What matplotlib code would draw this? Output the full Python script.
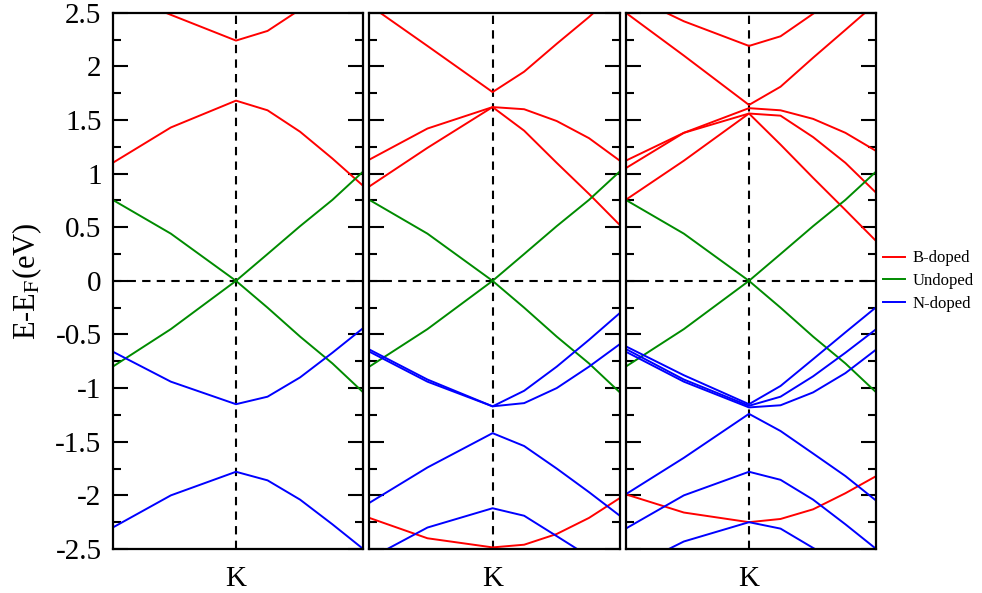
import matplotlib
matplotlib.use("Agg")
from matplotlib import pyplot as plt
from matplotlib.lines import Line2D

plt.rcParams["font.family"] = ["Liberation Serif", "DejaVu Serif"]
plt.rcParams["mathtext.fontset"] = "stix"
plt.rcParams["axes.unicode_minus"] = False

# k-path positions (left end, k1, K, then 4 points toward right end)
kpath = [0.0, 0.232, 0.492, 0.618, 0.748, 0.877, 1.0]
k_label = "K"
k_pos = 0.492

yticks = [2.5, 2, 1.5, 1, 0.5, 0, -0.5, -1, -1.5, -2, -2.5]
ytick_labels = ["2.5", "2", "1.5", "1", "0.5", "0", "-0.5", "-1", "-1.5", "-2", "-2.5"]

# undoped (green) - same in every panel
undoped_cb = [0.755, 0.44, 0.0, 0.25, 0.51, 0.755, 1.02]
undoped_vb = [-0.80, -0.45, 0.0, -0.25, -0.52, -0.77, -1.04]

# panel 1
p1_red = [
    [2.70, 2.48, 2.24, 2.33, 2.53, 2.75, 2.95],
    [1.10, 1.43, 1.68, 1.59, 1.39, 1.14, 0.885],
]
p1_blue = [
    [-0.66, -0.94, -1.15, -1.08, -0.90, -0.67, -0.44],
    [-2.30, -2.00, -1.78, -1.86, -2.04, -2.27, -2.50],
]

# panel 2
p2_red = [
    [2.57, 2.19, 1.76, 1.95, 2.21, 2.46, 2.72],
    [1.13, 1.42, 1.62, 1.60, 1.49, 1.33, 1.12],
    [0.88, 1.24, 1.62, 1.40, 1.10, 0.81, 0.52],
    [-2.21, -2.40, -2.485, -2.46, -2.36, -2.21, -2.025],
]
p2_blue = [
    [-0.64, -0.92, -1.17, -1.025, -0.80, -0.55, -0.30],
    [-0.66, -0.94, -1.17, -1.14, -1.00, -0.80, -0.59],
    [-2.07, -1.74, -1.42, -1.54, -1.75, -1.97, -2.19],
    [-2.59, -2.30, -2.12, -2.19, -2.38, -2.57, -2.76],
]

# panel 3
p3_red = [
    [2.68, 2.42, 2.19, 2.28, 2.49, 2.69, 2.88],
    [2.50, 2.10, 1.64, 1.81, 2.08, 2.34, 2.59],
    [1.12, 1.38, 1.61, 1.59, 1.51, 1.38, 1.21],
    [1.05, 1.38, 1.56, 1.54, 1.34, 1.10, 0.82],
    [0.755, 1.12, 1.56, 1.27, 0.96, 0.66, 0.37],
    [-1.99, -2.16, -2.25, -2.22, -2.13, -1.98, -1.82],
]
p3_blue = [
    [-0.61, -0.88, -1.15, -0.98, -0.73, -0.48, -0.245],
    [-0.635, -0.92, -1.165, -1.08, -0.89, -0.67, -0.45],
    [-0.66, -0.94, -1.18, -1.16, -1.04, -0.86, -0.64],
    [-1.99, -1.65, -1.24, -1.40, -1.61, -1.82, -2.05],
    [-2.31, -2.00, -1.78, -1.855, -2.04, -2.27, -2.50],
    [-2.70, -2.43, -2.25, -2.31, -2.49, -2.66, -2.83],
]

panels = [(p1_red, p1_blue), (p2_red, p2_blue), (p3_red, p3_blue)]
lefts = [0.1148, 0.3761, 0.6372]
red, green, blue = "#ff0000", "#008b00", "#0000ff"

fig = plt.figure(figsize=(9.82, 5.93), dpi=100)
for i, (reds, blues) in enumerate(panels):
    ax = fig.add_axes([lefts[i], 0.0742, 0.2551, 0.9044])
    ax.axhline(0, color="k", ls=(0, (4, 3)), lw=1.5, zorder=1)
    ax.axvline(k_pos, color="k", ls=(0, (4, 3)), lw=1.5, zorder=1)
    for b in reds:
        ax.plot(kpath, b, color=red, lw=1.4, zorder=2)
    ax.plot(kpath, undoped_cb, color=green, lw=1.4, zorder=2)
    ax.plot(kpath, undoped_vb, color=green, lw=1.4, zorder=2)
    for b in blues:
        ax.plot(kpath, b, color=blue, lw=1.4, zorder=2)
    ax.set_xlim(0, 1)
    ax.set_ylim(-2.5, 2.5)
    ax.set_xticks([k_pos])
    ax.set_xticklabels([k_label], fontsize=21)
    ax.tick_params(axis="x", length=0, pad=12)
    ax.set_yticks(yticks)
    ax.set_yticks([2.25, 1.75, 1.25, 0.75, 0.25, -0.25, -0.75, -1.25, -1.75, -2.25], minor=True)
    ax.tick_params(axis="y", which="major", direction="in", left=True, right=True,
                   length=11, width=1.5, pad=8)
    ax.tick_params(axis="y", which="minor", direction="in", left=True, right=True,
                   length=5.5, width=1.5)
    if i == 0:
        ax.set_yticklabels(ytick_labels, fontsize=21)
        ax.set_ylabel("E-E$_\\mathrm{F}$(eV)", fontsize=22, labelpad=8)
    else:
        ax.set_yticklabels([])
    for s in ax.spines.values():
        s.set_linewidth(1.6)

handles = [Line2D([], [], color=red, lw=1.4),
           Line2D([], [], color=green, lw=1.4),
           Line2D([], [], color=blue, lw=1.4)]
fig.legend(handles, ["B-doped", "Undoped", "N-doped"], loc="center left",
           bbox_to_anchor=(0.899, 0.526), frameon=False, fontsize=12,
           handlelength=1.32, handletextpad=0.48, labelspacing=0.4,
           borderpad=0, borderaxespad=0)

fig.savefig("out.png", dpi=100)
